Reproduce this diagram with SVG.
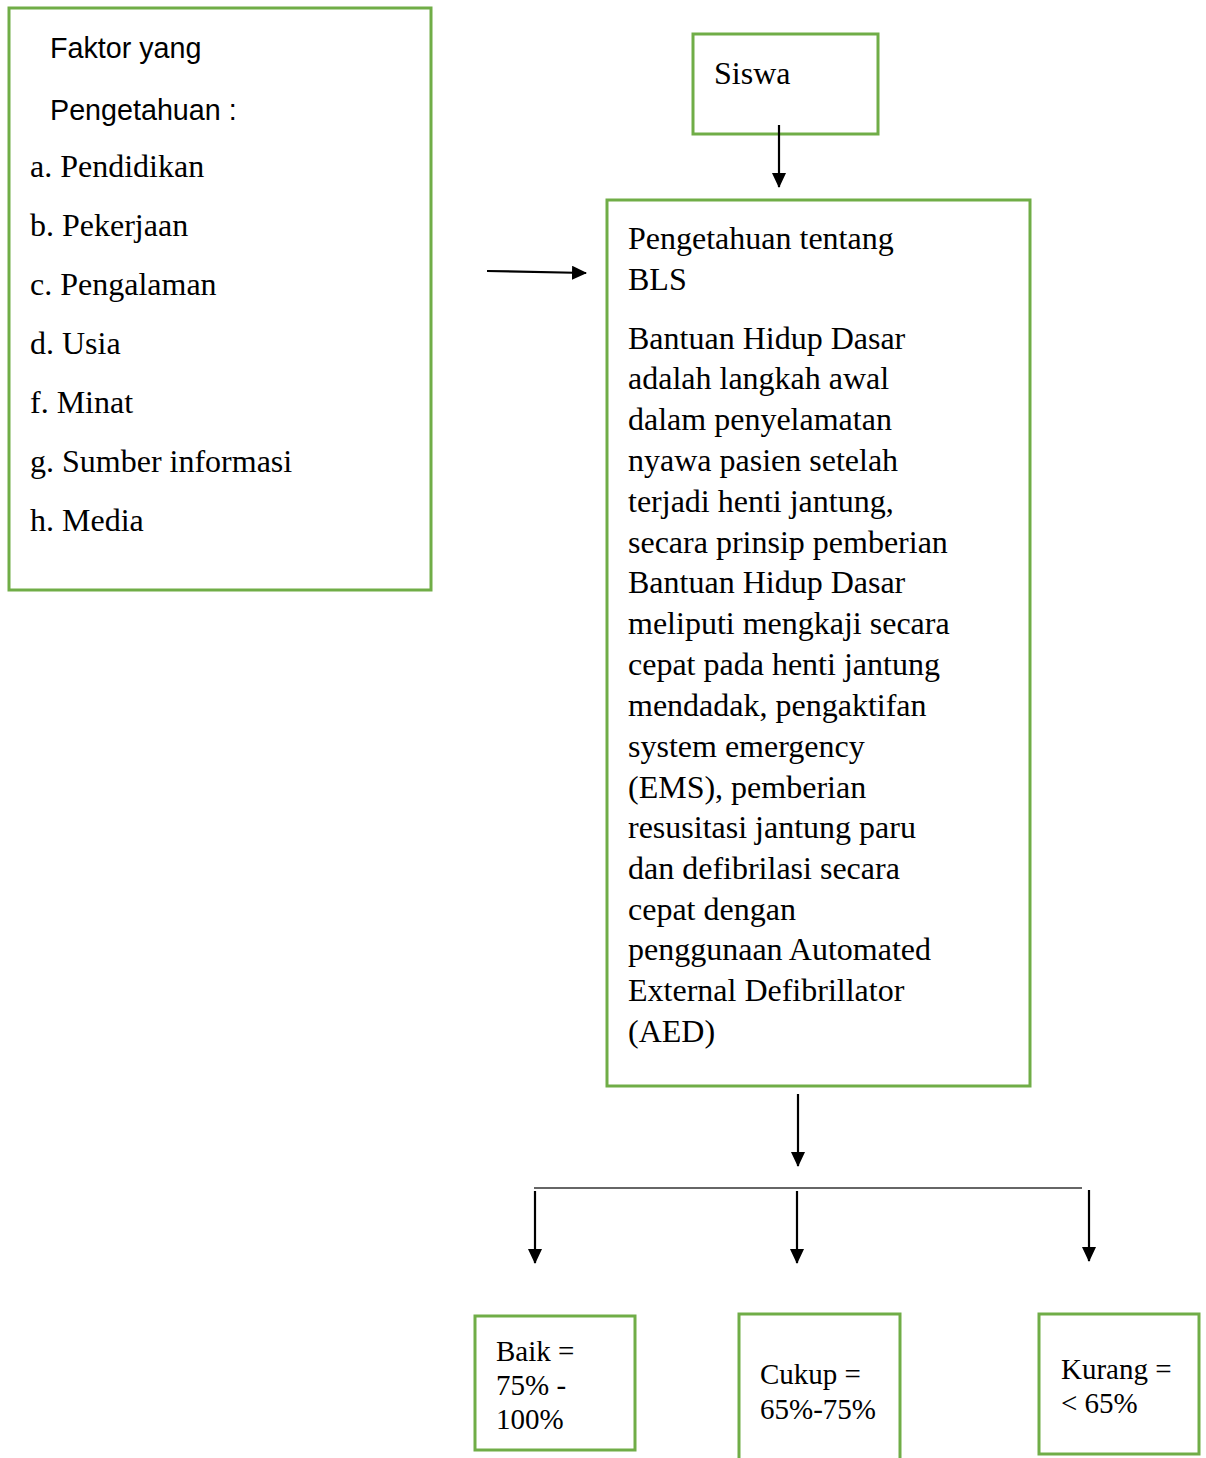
<svg xmlns="http://www.w3.org/2000/svg" width="1206" height="1458" viewBox="0 0 1206 1458">
<style>
.box{fill:#fff;stroke:#70AD47;stroke-width:3}
.t{font-family:"Liberation Serif","Times New Roman",serif;font-size:32px;fill:#000}
.s{font-family:"Liberation Sans",Arial,sans-serif;font-size:28.7px;fill:#000}
.b{font-family:"Liberation Serif","Times New Roman",serif;font-size:29px;fill:#000}
.c{stroke:#000;stroke-width:2.2;fill:none}
</style>
<defs>
<marker id="ah" markerWidth="16" markerHeight="14" refX="14" refY="7" orient="auto" markerUnits="userSpaceOnUse">
<path d="M0,0 L15,7 L0,14 Z" fill="#000"/>
</marker>
</defs>
<rect width="1206" height="1458" fill="#fff"/>
<g id="faktor">
<rect class="box" x="9" y="8" width="422" height="582"/>
<text class="s" x="50" y="58">Faktor yang</text>
<text class="s" x="50" y="120">Pengetahuan :</text>
<text class="t" x="30" y="177">a. Pendidikan</text>
<text class="t" x="30" y="236">b. Pekerjaan</text>
<text class="t" x="30" y="295">c. Pengalaman</text>
<text class="t" x="30" y="354">d. Usia</text>
<text class="t" x="30" y="413">f. Minat</text>
<text class="t" x="30" y="472">g. Sumber informasi</text>
<text class="t" x="30" y="531">h. Media</text>
</g>
<g id="siswa">
<rect class="box" x="693" y="34" width="185" height="100"/>
<text class="t" x="714" y="84">Siswa</text>
</g>
<g id="bls">
<rect class="box" x="607" y="200" width="423" height="886"/>
<text class="t" x="628" y="249">Pengetahuan tentang</text>
<text class="t" x="628" y="290">BLS</text>
<text class="t" x="628" y="349">Bantuan Hidup Dasar</text>
<text class="t" x="628" y="389">adalah langkah awal</text>
<text class="t" x="628" y="430">dalam penyelamatan</text>
<text class="t" x="628" y="471">nyawa pasien setelah</text>
<text class="t" x="628" y="512">terjadi henti jantung,</text>
<text class="t" x="628" y="553">secara prinsip pemberian</text>
<text class="t" x="628" y="593">Bantuan Hidup Dasar</text>
<text class="t" x="628" y="634">meliputi mengkaji secara</text>
<text class="t" x="628" y="675">cepat pada henti jantung</text>
<text class="t" x="628" y="716">mendadak, pengaktifan</text>
<text class="t" x="628" y="757">system emergency</text>
<text class="t" x="628" y="798">(EMS), pemberian</text>
<text class="t" x="628" y="838">resusitasi jantung paru</text>
<text class="t" x="628" y="879">dan defibrilasi secara</text>
<text class="t" x="628" y="920">cepat dengan</text>
<text class="t" x="628" y="960">penggunaan Automated</text>
<text class="t" x="628" y="1001">External Defibrillator</text>
<text class="t" x="628" y="1042">(AED)</text>
</g>
<g id="baik">
<rect class="box" x="475" y="1316" width="160" height="134"/>
<text class="b" x="496" y="1361">Baik =</text>
<text class="b" x="496" y="1395">75% -</text>
<text class="b" x="496" y="1429">100%</text>
</g>
<g id="cukup">
<rect class="box" x="739" y="1314" width="161" height="160"/>
<text class="b" x="760" y="1384">Cukup =</text>
<text class="b" x="760" y="1419">65%-75%</text>
</g>
<g id="kurang">
<rect class="box" x="1039" y="1314" width="160" height="140"/>
<text class="b" x="1061" y="1379">Kurang =</text>
<text class="b" x="1061" y="1413">&lt; 65%</text>
</g>
<g id="connectors">
<line class="c" x1="487" y1="271" x2="586" y2="273" marker-end="url(#ah)"/>
<line class="c" x1="779" y1="125" x2="779" y2="187" marker-end="url(#ah)"/>
<line class="c" x1="798" y1="1094" x2="798" y2="1166" marker-end="url(#ah)"/>
<line x1="534" y1="1188" x2="1082" y2="1188" stroke="#333" stroke-width="1.5"/>
<line class="c" x1="535" y1="1191" x2="535" y2="1263" marker-end="url(#ah)"/>
<line class="c" x1="797" y1="1191" x2="797" y2="1263" marker-end="url(#ah)"/>
<line class="c" x1="1089" y1="1190" x2="1089" y2="1261" marker-end="url(#ah)"/>
</g>
</svg>
